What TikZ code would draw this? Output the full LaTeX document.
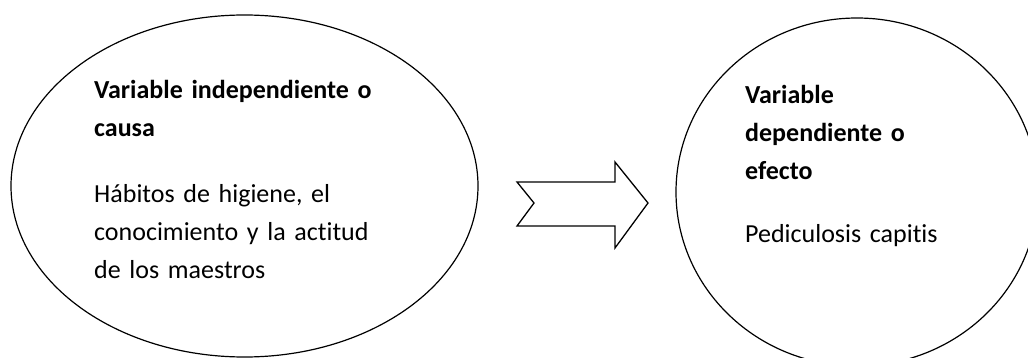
\documentclass[tikz,border=0pt]{standalone}
\usepackage{fontspec}
\setmainfont{Carlito}[Ligatures=NoCommon]
\usetikzlibrary{shapes.geometric, positioning}

\begin{document}
\begin{tikzpicture}[
    x=1pt,
    y=-1pt,
    oval/.style={
        ellipse,
        draw=black,
        line width=1.2pt
    },
    ovaltext/.style={
        anchor=base west,
        inner sep=0pt,
        align=left,
        text width=#1,
        font=\fontsize{26}{38}\selectfont
    },
    bigarrow/.style={
        draw=black,
        line width=1.3pt,
        line join=miter,
        fill=white
    }
]
    \clip (0,0) rectangle (1028,358);

    \node [oval, minimum width=467pt, minimum height=342pt] (cause) at (244.5,186) {};
    \node [oval, minimum width=362pt, minimum height=348pt] (effect) at (857,192) {};

    \node [ovaltext=340pt] (causetext) at (94,99)
        {\textbf{Variable independiente o}\\
         \textbf{causa}\\[28pt]
         Hábitos de higiene, el\\
         conocimiento y la actitud\\
         de los maestros};
    \node [ovaltext=260pt] (effecttext) at (745,104)
        {\textbf{Variable}\\
         \textbf{dependiente o}\\
         \textbf{efecto}\\[25pt]
         Pediculosis capitis};

    % notched arrow between the two ovals
    \draw [bigarrow] (517,182) -- (615,182) -- (615,162) -- (648,203)
        -- (615,248) -- (615,226) -- (517,226) -- (534,203) -- cycle;
\end{tikzpicture}
\end{document}
